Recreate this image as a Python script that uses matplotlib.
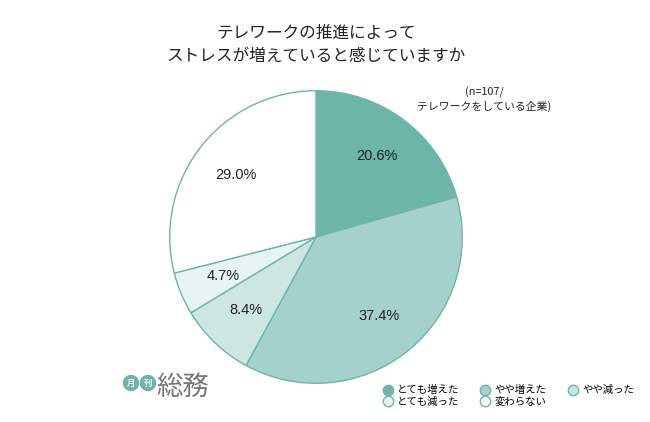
import matplotlib
matplotlib.use("Agg")
import matplotlib.pyplot as plt
from matplotlib.lines import Line2D
from matplotlib.patches import Circle

plt.rcParams['font.family'] = ['Noto Sans CJK JP', 'DejaVu Sans']

labels = ["とても増えた", "やや増えた", "やや減った", "とても減った", "変わらない"]
values = [20.6, 37.4, 8.4, 4.7, 29.0]
colors = ["#6db4a9", "#a4d1cb", "#cce6e2", "#e7f4f2", "#ffffff"]
edge = "#6db4a9"

W, H = 650, 422
fig = plt.figure(figsize=(W / 100, H / 100), dpi=100)

cx, cy, r = 316, 237, 147
ax = fig.add_axes([(cx - r) / W, (H - cy - r) / H, 2 * r / W, 2 * r / H])
wedges, texts, autotexts = ax.pie(
    values, colors=colors, startangle=90, counterclock=False,
    autopct="%1.1f%%", pctdistance=0.69,
    wedgeprops=dict(edgecolor=edge, linewidth=1.0),
    textprops=dict(fontsize=10.5, color="#222222",
                   family=['Liberation Sans', 'DejaVu Sans']))
for t, v in zip(autotexts, values):
    t.set_text(f"{v:.1f}%")
ax.set_xlim(-1.005, 1.005)
ax.set_ylim(-1.005, 1.005)
ax.set_aspect("equal")

fig.text(316 / W, 1 - 33 / H, "テレワークの推進によって", ha="center", va="center",
         fontsize=12, color="#222222")
fig.text(316 / W, 1 - 56 / H, "ストレスが増えていると感じていますか", ha="center",
         va="center", fontsize=12, color="#222222")
fig.text(484 / W, 1 - 92 / H, "(n=107/", ha="center", va="center", fontsize=7.8,
         color="#222222")
fig.text(484 / W, 1 - 106 / H, "テレワークをしている企業)", ha="center", va="center",
         fontsize=7.8, color="#222222")

# legend (reordered so it fills row by row)
order = [0, 3, 1, 4, 2]
handles = [Line2D([], [], marker="o", ls="", ms=7.5, markerfacecolor=colors[i],
                  markeredgecolor=edge, markeredgewidth=1.0) for i in order]
fig.legend(handles, [labels[i] for i in order], ncol=3, frameon=False,
           loc="center left", bbox_to_anchor=(372 / W, 1 - 396 / H),
           fontsize=7.5, handletextpad=0.3, columnspacing=1.9, labelspacing=0.1,
           handlelength=1.2)

# logo
lax = fig.add_axes([0, 0, 1, 1], facecolor="none")
lax.set_xlim(0, W); lax.set_ylim(H, 0); lax.axis("off")
for x, ch in [(131, "月"), (148, "刊")]:
    lax.add_patch(Circle((x, 383), 7.5, color="#6db4a9"))
    lax.text(x, 383, ch, ha="center", va="center", fontsize=6, color="white",
             fontweight="bold")
lax.text(156, 387, "総務", ha="left", va="center", fontsize=19, color="#777777")

fig.savefig("out.png", dpi=100)
